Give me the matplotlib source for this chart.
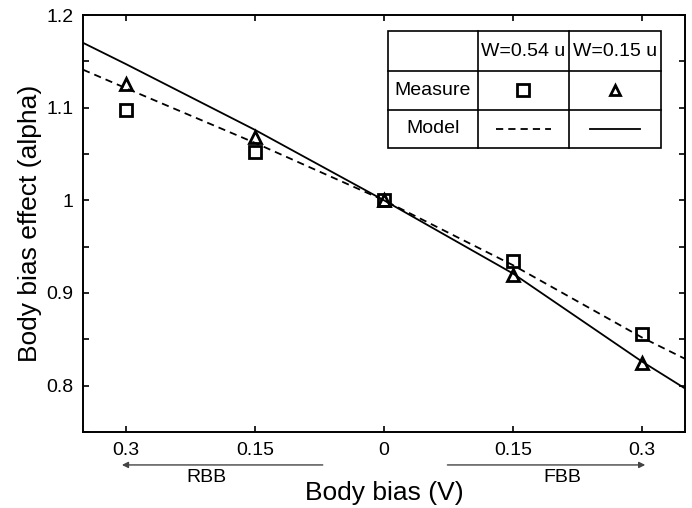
import matplotlib
matplotlib.use("Agg")
import matplotlib.pyplot as plt
from matplotlib.lines import Line2D

plt.rcParams['font.family'] = ['Liberation Sans', 'DejaVu Sans']

# measured points
bias = [-0.3, -0.15, 0.0, 0.15, 0.3]
meas_054 = [1.097, 1.052, 1.0, 0.935, 0.856]   # squares, W=0.54 u
meas_015 = [1.126, 1.068, 1.0, 0.919, 0.825]   # triangles, W=0.15 u

# model curves
model_x = [-0.35, -0.3, -0.15, 0.0, 0.15, 0.3, 0.35]
model_054 = [1.141, 1.121, 1.062, 1.0, 0.930, 0.852, 0.829]  # dashed
model_015 = [1.170, 1.147, 1.076, 1.0, 0.921, 0.826, 0.797]  # solid

xtick_vals = [-0.3, -0.15, 0.0, 0.15, 0.3]
xtick_labels = ['0.3', '0.15', '0', '0.15', '0.3']
ytick_vals = [0.75, 0.8, 0.85, 0.9, 0.95, 1.0, 1.05, 1.1, 1.15, 1.2]
ytick_labels = ['', '0.8', '', '0.9', '', '1', '', '1.1', '', '1.2']

table_rows = ['', 'Measure', 'Model']
table_cols = ['W=0.54 u', 'W=0.15 u']

fig = plt.figure(figsize=(6.92, 5.08), dpi=100)
ax = fig.add_axes([83 / 692, 76 / 508, 602 / 692, 417 / 508])

ax.plot(model_x, model_054, color='black', lw=1.3, linestyle=(0, (4, 2.8)))
ax.plot(model_x, model_015, color='black', lw=1.3)
ax.plot(bias, meas_054, linestyle='none', marker='s', ms=9, mew=2,
        mfc='none', mec='black')
ax.plot(bias, meas_015, linestyle='none', marker='^', ms=9, mew=2,
        mfc='none', mec='black')

ax.set_xlim(-0.35, 0.35)
ax.set_ylim(0.75, 1.2)
ax.set_xticks(xtick_vals)
ax.set_xticklabels(xtick_labels)
ax.set_yticks(ytick_vals)
ax.set_yticklabels(ytick_labels)
ax.tick_params(direction='in', top=True, right=True, length=4, width=1.2,
               labelsize=14, pad=7)
for s in ax.spines.values():
    s.set_linewidth(1.4)

ax.set_xlabel('Body bias (V)', fontsize=19, labelpad=16)
ax.set_ylabel('Body bias effect (alpha)', fontsize=19, labelpad=3)

# RBB / FBB arrows under the axis
xt = ax.get_xaxis_transform()
arrow = dict(arrowstyle='-|>', color='#444444', lw=1.0, mutation_scale=9)
ax.annotate('', xy=(-0.308, -0.079), xytext=(-0.068, -0.079), xycoords=xt,
            textcoords=xt, arrowprops=arrow, annotation_clip=False)
ax.annotate('', xy=(0.307, -0.079), xytext=(0.0705, -0.079), xycoords=xt,
            textcoords=xt, arrowprops=arrow, annotation_clip=False)
ax.text(-0.206, -0.110, 'RBB', transform=xt, ha='center', va='center',
        fontsize=14)
ax.text(0.207, -0.110, 'FBB', transform=xt, ha='center', va='center',
        fontsize=14)

# legend drawn as a table
cx = [0.5066, 0.6561, 0.8073, 0.9601]
ry = [0.9616, 0.8657, 0.7722, 0.6811]
T = ax.transAxes
ax.add_patch(plt.Rectangle((cx[0], ry[3]), cx[3] - cx[0], ry[0] - ry[3],
                           transform=T, facecolor='white', edgecolor='black',
                           lw=1.2, zorder=5))
for x in cx[1:3]:
    ax.add_line(Line2D([x, x], [ry[3], ry[0]], transform=T, color='black',
                       lw=1.2, zorder=6))
for y in ry[1:3]:
    ax.add_line(Line2D([cx[0], cx[3]], [y, y], transform=T, color='black',
                       lw=1.2, zorder=6))
mid_c = [(cx[i] + cx[i + 1]) / 2 for i in range(3)]
mid_r = [(ry[i] + ry[i + 1]) / 2 for i in range(3)]
for i, lab in enumerate(table_cols):
    ax.text(mid_c[i + 1], mid_r[0], lab, transform=T, ha='center',
            va='center', fontsize=14, zorder=7)
for j, lab in enumerate(table_rows):
    if lab:
        ax.text(mid_c[0], mid_r[j], lab, transform=T, ha='center',
                va='center', fontsize=14, zorder=7)
ax.add_line(Line2D([mid_c[1]], [mid_r[1]], transform=T, marker='s', ms=8,
                   mew=2, mfc='none', mec='black', zorder=7))
ax.add_line(Line2D([mid_c[2]], [mid_r[1]], transform=T, marker='^', ms=7,
                   mew=2, mfc='none', mec='black', zorder=7))
ax.add_line(Line2D([mid_c[1] - 0.046, mid_c[1] + 0.046], [mid_r[2]] * 2,
                   transform=T, color='black', lw=1.3,
                   linestyle=(0, (4, 2.8)), zorder=7))
ax.add_line(Line2D([mid_c[2] - 0.042, mid_c[2] + 0.042], [mid_r[2]] * 2,
                   transform=T, color='black', lw=1.3, zorder=7))

fig.savefig('out.png', dpi=100)
